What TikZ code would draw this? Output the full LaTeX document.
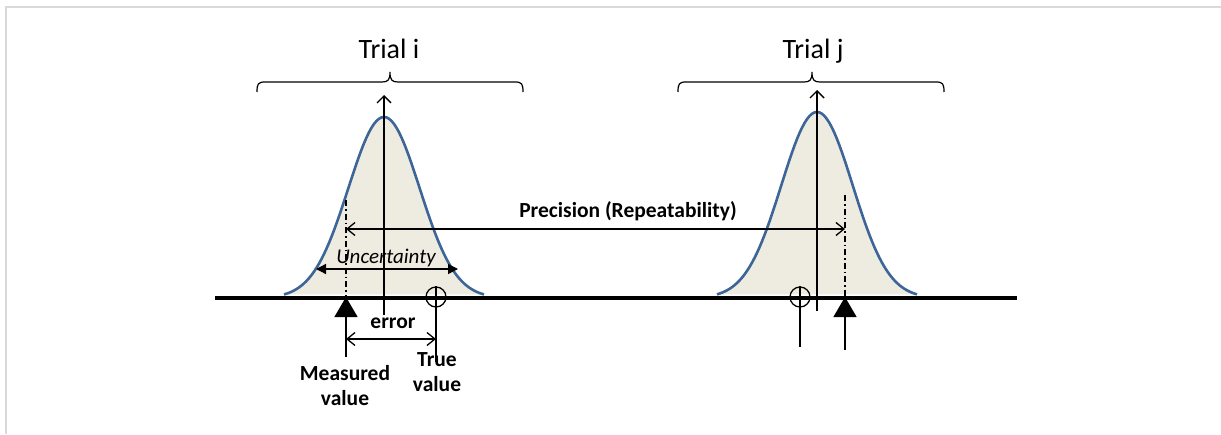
\documentclass[tikz,border=0pt]{standalone}
\usepackage{fontspec}
\setmainfont{Carlito}
\usetikzlibrary{arrows.meta}
\definecolor{bellfill}{HTML}{EEECE1}
\definecolor{bellline}{HTML}{3D6597}
\definecolor{framegray}{HTML}{D9D9D9}
\begin{document}
\begin{tikzpicture}[x=1pt,y=-1pt,
  bell/.style={bellline,line width=2.6pt},
  axisline/.style={line width=1.4pt,-{Straight Barb[length=7pt,width=14pt]}},
  dimarrow/.style={line width=1.3pt,{Straight Barb[length=8pt,width=13pt]}-{Straight Barb[length=8pt,width=13pt]}},
  solidarrow/.style={line width=1.3pt,{Triangle[length=10pt,width=10pt]}-{Triangle[length=10pt,width=10pt]}},
  measarrow/.style={line width=1.4pt,-{Triangle[length=20pt,width=23pt]}},
  dashdot/.style={line width=1.1pt,dash pattern=on 6pt off 3pt on 1.5pt off 3pt},
  brace/.style={line width=1.2pt},
  truemark/.style={draw,circle,minimum size=20pt,inner sep=0pt,line width=1.3pt},
  trialtext/.style={font=\fontsize{28}{30}\selectfont,anchor=base},
  lbl/.style={font=\fontsize{21.5}{25}\selectfont\bfseries,anchor=base},
  ilbl/.style={font=\fontsize{21}{23}\selectfont\itshape,anchor=base}
]
\useasboundingbox (0,0) rectangle (1221,434);
\draw[framegray,line width=2pt] (6,434) -- (6,7) -- (1221,7);

% bells
\fill[bellfill] plot[domain=-100:100,samples=81] ({384+\x},{298-181*exp(-(\x*\x)/2544)}) -- cycle;
\fill[bellfill] plot[domain=-100:100,samples=81] ({817+\x},{298-186*exp(-(\x*\x)/2544)}) -- cycle;
\draw[bell] plot[domain=-100:100,samples=81] ({384+\x},{298-181*exp(-(\x*\x)/2544)});
\draw[bell] plot[domain=-100:100,samples=81] ({817+\x},{298-186*exp(-(\x*\x)/2544)});

% baseline
\coordinate (bl1) at (215,298);
\coordinate (bl2) at (1017,298);
\draw[line width=3.2pt] (bl1) -- (bl2);

% axes
\coordinate (axi0) at (384,315);
\coordinate (axi1) at (384,95);
\coordinate (axj0) at (817,311);
\coordinate (axj1) at (817,90);
\draw[axisline] (axi0) -- (axi1);
\draw[axisline] (axj0) -- (axj1);

% braces
\draw[brace] (257,92) .. controls (257,84) and (258,82) .. (265,82) -- (382,82)
  .. controls (388,82) and (390,80) .. (390,72) .. controls (390,80) and (392,82) .. (398,82)
  -- (515,82) .. controls (522,82) and (523,84) .. (523,92);
\draw[brace] (678,92) .. controls (678,84) and (679,82) .. (686,82) -- (804,82)
  .. controls (810,82) and (812,80) .. (812,72) .. controls (812,80) and (814,82) .. (820,82)
  -- (936,82) .. controls (943,82) and (944,84) .. (944,92);
\node[trialtext] (ti) at (389,58) {Trial i};
\node[trialtext] (tj) at (813,58) {Trial j};

% dash-dot lines
\coordinate (ddi0) at (346,200);
\coordinate (ddi1) at (346,298);
\coordinate (ddj0) at (845,195);
\coordinate (ddj1) at (845,298);
\draw[dashdot] (ddi0) -- (ddi1);
\draw[dashdot] (ddj0) -- (ddj1);

% precision
\coordinate (pr0) at (346,229);
\coordinate (pr1) at (845,229);
\draw[dimarrow] (pr0) -- (pr1);
\node[lbl] (prec) at (628,217) {Precision (Repeatability)};

% uncertainty
\coordinate (un0) at (316,269);
\coordinate (un1) at (458,269);
\draw[solidarrow] (un0) -- (un1);
\node[ilbl] (unc) at (386,263) {Uncertainty};

% measured value marks
\coordinate (mi0) at (346,357);
\coordinate (mi1) at (346,297);
\draw[measarrow] (mi0) -- (mi1);
\coordinate (mj0) at (845,350);
\coordinate (mj1) at (845,297);
\draw[measarrow] (mj0) -- (mj1);

% true value marks
\node[truemark] (tvi) at (436,297) {};
\coordinate (tvi1) at (436,362);
\draw[line width=1.3pt] (tvi.north) -- (tvi1);
\node[truemark] (tvj) at (800,297) {};
\coordinate (tvj1) at (800,347);
\draw[line width=1.3pt] (tvj.north) -- (tvj1);

% error
\coordinate (er0) at (346,339);
\coordinate (er1) at (436,339);
\draw[dimarrow] (er0) -- (er1);
\node[lbl] (err) at (393,328) {error};

\node[lbl] (meas) at (345,380) {Measured};
\node[lbl] (meas2) at (345,405) {value};
\node[lbl] (tru) at (437,366) {True};
\node[lbl] (tru2) at (437,391) {value};
\end{tikzpicture}
\end{document}
